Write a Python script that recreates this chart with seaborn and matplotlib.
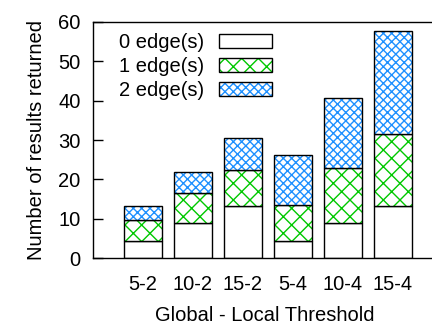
import numpy as np
import matplotlib
matplotlib.use("Agg")
import matplotlib.pyplot as plt
from matplotlib.patches import Patch
from matplotlib.legend_handler import HandlerTuple
import seaborn as sns

# data
labels = ["5-2", "10-2", "15-2", "5-4", "10-4", "15-4"]
edge0 = [4.4, 8.9, 13.2, 4.4, 8.9, 13.2]
edge1 = [5.2, 7.6, 9.1, 9.0, 14.1, 18.4]
edge2 = [3.6, 5.3, 8.2, 12.8, 17.6, 26.1]
series_names = ["0 edge(s)", "1 edge(s)", "2 edge(s)"]

sns.set_style("ticks")
plt.rcParams["font.family"] = ["Liberation Sans", "DejaVu Sans"]
plt.rcParams["hatch.linewidth"] = 1.0
plt.rcParams["text.color"] = "black"
plt.rcParams["axes.labelcolor"] = "black"
plt.rcParams["xtick.color"] = "black"
plt.rcParams["ytick.color"] = "black"

FS = 14.5
W, H = 432, 326
fig = plt.figure(figsize=(W / 100, H / 100), dpi=100)
left, right, top, bottom = 93, 436, 21.7, 258.3
ax = fig.add_axes([left / W, 1 - bottom / H, (right - left) / W, (bottom - top) / H])

hatch_colors = ["white", "#00c800", "#1e90ff"]
hatches = ["", "xx", "xxxx"]
segs = [np.array(edge0), np.array(edge1), np.array(edge2)]

base = np.zeros(len(labels))
for vals, hc, h in zip(segs, hatch_colors, hatches):
    sns.barplot(x=labels, y=vals, bottom=base, color="white", saturation=1,
                edgecolor=hc, linewidth=0, hatch=h, width=0.75,
                errorbar=None, ax=ax)
    sns.barplot(x=labels, y=vals, bottom=base, color="black", fill=False,
                linewidth=1.0, width=0.75, errorbar=None, ax=ax)
    base = base + vals

ax.set_xlim(-1, 5.86)
ax.set_ylim(0, 60)
ax.set_yticks(range(0, 61, 10))
ax.tick_params(axis="y", direction="in", length=7, width=1, pad=9, labelsize=FS)
ax.tick_params(axis="x", length=0, pad=12, labelsize=FS)
for s in ["left", "top", "bottom"]:
    ax.spines[s].set_linewidth(1.0)
    ax.spines[s].set_color("black")
ax.spines["right"].set_visible(False)

ax.set_xlabel("Global - Local Threshold", fontsize=FS, labelpad=9)
ax.set_ylabel("Number of results returned", fontsize=FS, labelpad=9)

handles = []
for hc, h in zip(hatch_colors, hatches):
    handles.append((Patch(facecolor="white", edgecolor=hc, hatch=h, linewidth=0),
                    Patch(fill=False, edgecolor="black", linewidth=1.0)))
ax.legend(handles, series_names, handler_map={tuple: HandlerTuple(ndivide=1, pad=0)},
          loc="upper left", bbox_to_anchor=(119 / W, 1 - 33 / H),
          bbox_transform=fig.transFigure, frameon=False, markerfirst=False,
          fontsize=FS, handlelength=2.6, handleheight=0.65, handletextpad=0.75,
          labelspacing=0.25, borderpad=0, borderaxespad=0)

fig.savefig("out.png", dpi=100)
